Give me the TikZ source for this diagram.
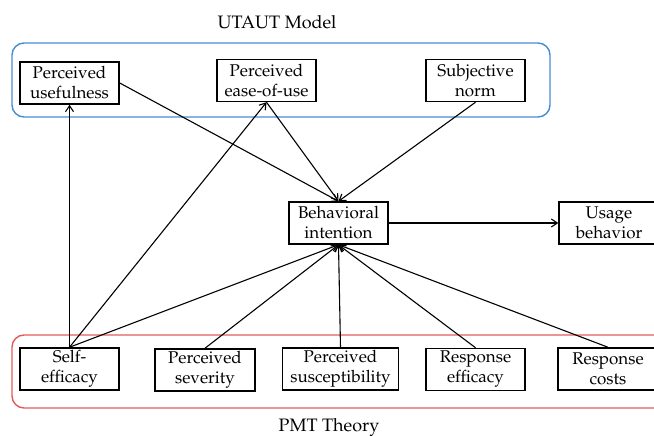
\documentclass[tikz,border=0pt]{standalone}
\usepackage[T1]{fontenc}
\usepackage{mathpazo}
\usetikzlibrary{arrows.meta}
\definecolor{utblue}{RGB}{70,140,210}
\definecolor{pmtred}{RGB}{228,90,90}
\tikzset{
  box/.style={draw=black, line width=1.5pt, minimum height=42pt, align=center,
    font=\fontsize{17}{20}\selectfont, inner sep=1pt},
  conn/.style={line width=1.1pt, -{Straight Barb[length=6pt,width=8pt]}},
  frame/.style={line width=1.4pt, rounded corners=12pt},
  title/.style={font=\fontsize{18}{21}\selectfont}
}
\begin{document}
\begin{tikzpicture}[x=1pt,y=-1pt]
\useasboundingbox (0,0) rectangle (654,436);
\clip (0,0) rectangle (654,436);
% frames
\draw[frame, draw=utblue] (12,43) rectangle (550,117);
\draw[frame, draw=pmtred] (12,335) rectangle (680,408);
\node[title] (utaut) at (277,22) {UTAUT Model};
\node[title] (pmt) at (329,428) {PMT Theory};
% UTAUT boxes
\node[box, minimum width=99pt] (pu) at (69.5,83) {Perceived\\usefulness};
\node[box, minimum width=99pt] (peou) at (266.5,80.5) {Perceived\\ease-of-use};
\node[box, minimum width=99pt] (sn) at (475.5,80.5) {Subjective\\norm};
% middle
\node[box, minimum width=99pt] (bi) at (338.5,223) {Behavioral\\intention};
\node[box, minimum width=100pt] (ub) at (609,223) {Usage\\behavior};
% PMT boxes
\node[box, minimum width=99pt] (se) at (69.5,369) {Self-\\efficacy};
\node[box, minimum width=100pt] (ps) at (205,370) {Perceived\\severity};
\node[box, minimum width=116pt] (psu) at (340.5,369) {Perceived\\susceptibility};
\node[box, minimum width=99pt] (re) at (475.5,369.5) {Response\\efficacy};
\node[box, minimum width=100pt] (rc) at (608,369) {Response\\costs};
% connectors
\draw[conn] (se.north) -- (pu.south);
\draw[conn] (se.north) -- (peou.south);
\draw[conn] (se.north) -- (bi.south);
\draw[conn] (pu.east) -- (bi.north);
\draw[conn] (peou.south) -- (bi.north);
\draw[conn] (sn.south) -- (bi.north);
\draw[conn] (ps.north) -- (bi.south);
\draw[conn] (psu.north) -- (bi.south);
\draw[conn] (re.north) -- (bi.south);
\draw[conn] (rc.north) -- (bi.south);
\draw[conn] (bi.east) -- (ub.west);
\end{tikzpicture}
\end{document}
